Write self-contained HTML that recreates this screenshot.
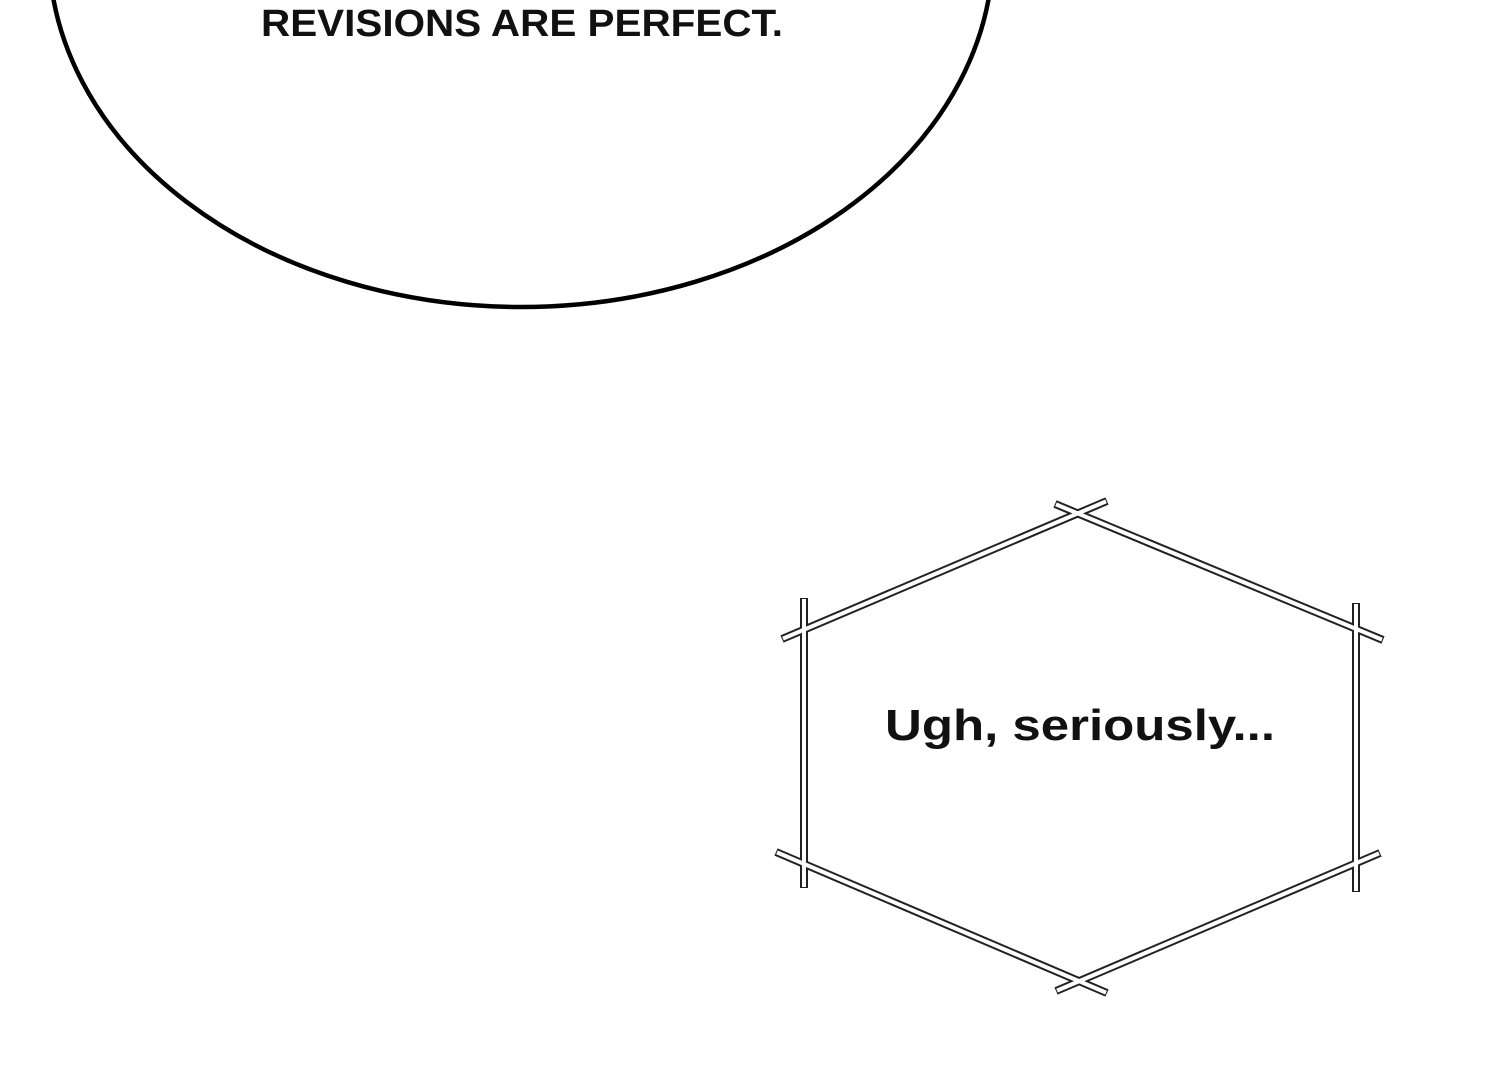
<!DOCTYPE html>
<html><head><meta charset="utf-8"><style>
html,body{margin:0;padding:0;background:#fff;}
svg{display:block}
</style></head><body>
<svg width="1500" height="1080" viewBox="0 0 1500 1080" xmlns="http://www.w3.org/2000/svg">
<rect width="1500" height="1080" fill="#fff"/>
<ellipse cx="521" cy="-50" rx="472" ry="357" fill="#fff" stroke="#000" stroke-width="4.5"/>
<text x="522" y="36" text-anchor="middle" font-family="Liberation Sans, sans-serif" font-size="38" font-weight="bold" fill="#111" textLength="522" lengthAdjust="spacingAndGlyphs">REVISIONS ARE PERFECT.</text>
<g stroke-linecap="butt" fill="none">
<g stroke="#222" stroke-width="8">
<line x1="782" y1="639" x2="1107" y2="501"/>
<line x1="1055" y1="504" x2="1383" y2="640"/>
<line x1="804" y1="598" x2="804" y2="888"/>
<line x1="1356" y1="603" x2="1356" y2="892"/>
<line x1="776" y1="852" x2="1107" y2="993"/>
<line x1="1056" y1="991" x2="1380" y2="853"/>
</g>
<g stroke="#fff" stroke-width="4">
<line x1="783" y1="638.6" x2="1106" y2="501.4"/>
<line x1="1056" y1="504.4" x2="1382" y2="639.6"/>
<line x1="804" y1="599" x2="804" y2="887"/>
<line x1="1356" y1="604" x2="1356" y2="891"/>
<line x1="777" y1="852.4" x2="1106" y2="992.6"/>
<line x1="1057" y1="990.6" x2="1379" y2="853.4"/>
</g>
</g>
<text x="1080" y="740" text-anchor="middle" font-family="Liberation Sans, sans-serif" font-size="44" font-weight="bold" fill="#111" textLength="390" lengthAdjust="spacingAndGlyphs">Ugh, seriously...</text>
</svg>
</body></html>
